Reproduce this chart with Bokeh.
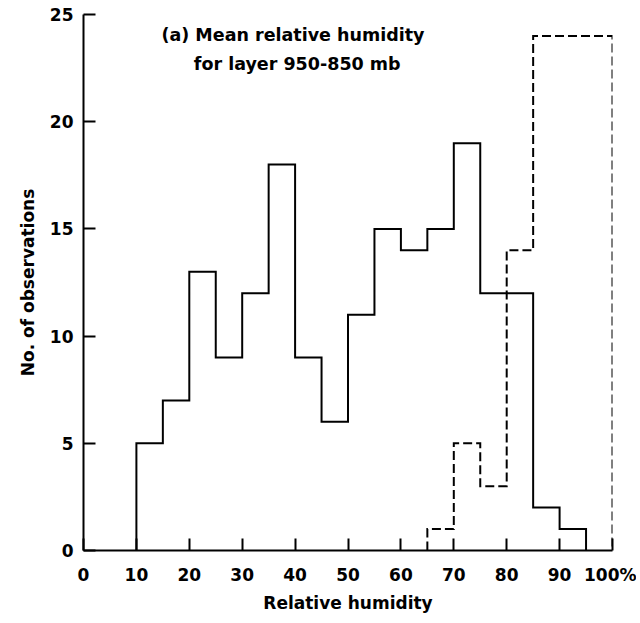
import numpy as np
from bokeh.plotting import figure
from bokeh.models import FixedTicker, Range1d
from bokeh.core.properties import value
from bokeh.embed import file_html
from bokeh.resources import INLINE

# ---- data ----
solid_edges = [10, 15, 20, 25, 30, 35, 40, 45, 50, 55, 60, 65, 70, 75, 80, 85, 90, 95]
solid_counts = [5, 7, 13, 9, 12, 18, 9, 6, 11, 15, 14, 15, 19, 12, 12, 2, 1]

dashed_edges = [65, 70, 75, 80, 85, 100]
dashed_counts = [1, 5, 3, 14, 24]

x_ticks = [0, 10, 20, 30, 40, 50, 60, 70, 80, 90, 100]
x_tick_labels = ["0", "10", "20", "30", "40", "50", "60", "70", "80", "90", "100%"]
y_ticks = [0, 5, 10, 15, 20, 25]

title_lines = ["(a) Mean relative humidity", "for layer 950-850 mb"]
x_label = "Relative humidity"
y_label = "No. of observations"

FONT = "DejaVu Sans"


def outline(edges, counts):
    xs, ys = [edges[0]], [0]
    for i, c in enumerate(counts):
        xs += [edges[i], edges[i + 1]]
        ys += [c, c]
    xs.append(edges[-1])
    ys.append(0)
    return xs, ys


p = figure(width=636, height=615, output_backend="svg", toolbar_location=None,
           x_range=Range1d(0, 100), y_range=Range1d(0, 25),
           min_border_left=83, min_border_right=24, min_border_top=14, min_border_bottom=62)
p.outline_line_color = None
p.xgrid.grid_line_color = None
p.ygrid.grid_line_color = None
p.background_fill_color = "white"
p.border_fill_color = "white"

sx, sy = outline(solid_edges, solid_counts)
p.line(sx, sy, line_color="black", line_width=2, line_join="miter")

dx, dy = outline(dashed_edges, dashed_counts)
p.line(dx, dy, line_color="black", line_width=2, line_dash="9 4", line_join="miter")

# axes
for ax in (p.xaxis[0], p.yaxis[0]):
    ax.axis_line_width = 2
    ax.axis_line_color = "black"
    ax.major_tick_line_width = 2
    ax.major_tick_line_color = "black"
    ax.major_tick_in = 12
    ax.major_tick_out = 0
    ax.minor_tick_line_color = None
    ax.major_label_text_font = FONT
    ax.major_label_text_font_style = "bold"
    ax.major_label_text_font_size = "17px"
    ax.major_label_text_color = "black"
    ax.axis_label_text_font = FONT
    ax.axis_label_text_font_style = "bold"
    ax.axis_label_text_font_size = "17px"
    ax.axis_label_text_color = "black"

p.xaxis.ticker = FixedTicker(ticks=x_ticks)
p.xaxis.major_label_overrides = {t: l for t, l in zip(x_ticks, x_tick_labels)}
p.xaxis.major_label_standoff = 14
p.xaxis.axis_label = x_label
p.xaxis.axis_label_standoff = 5

p.yaxis.ticker = FixedTicker(ticks=y_ticks)
p.yaxis.major_label_standoff = 10
p.yaxis.axis_label = y_label
p.yaxis.axis_label_standoff = 9

# title text inside the plot
p.text(x=[39.6, 40.4], y=[24.05, 22.7], text=title_lines,
       text_font=value(FONT), text_font_style="bold", text_font_size="17.5px",
       text_align="center", text_baseline="middle", text_color="black")

open("out.html", "w").write(file_html(p, INLINE))
